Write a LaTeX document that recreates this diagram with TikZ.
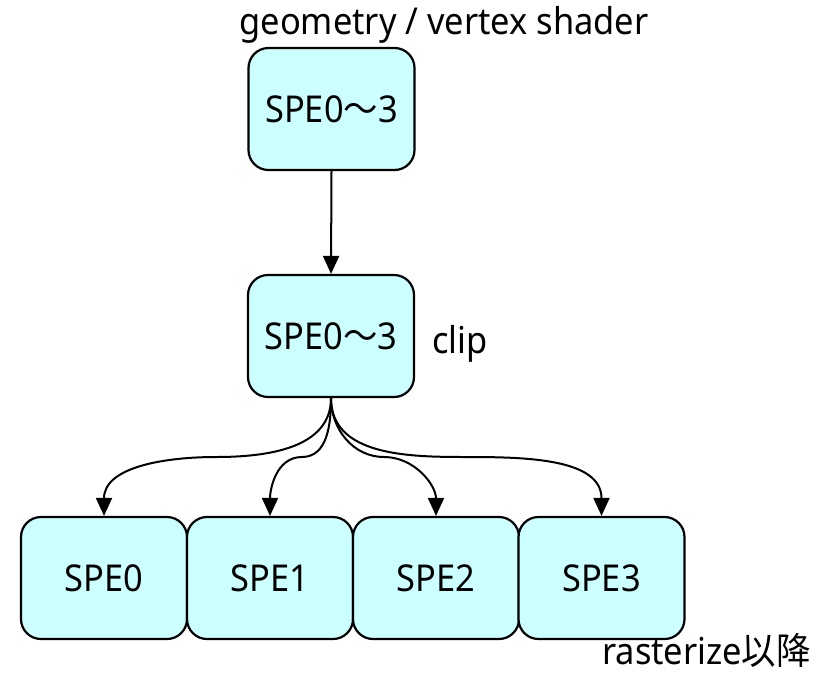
\documentclass[tikz,border=0pt]{standalone}
\usepackage{fontspec}
\setmainfont[FakeStretch=0.93]{Noto Sans}
\newfontfamily\cjk[FakeStretch=0.93]{Noto Sans CJK JP}
\usetikzlibrary{arrows.meta}
\definecolor{boxfill}{HTML}{CCFFFF}
\tikzset{
  spebox/.style={draw=black, line width=2.2pt, fill=boxfill, rounded corners=20pt,
    minimum width=166pt, minimum height=122pt, inner sep=0pt,
    font=\fontsize{37}{44}\selectfont},
  lbl/.style={inner sep=0pt, font=\fontsize{37}{44}\selectfont},
  arr/.style={line width=2pt, -{Triangle[length=18pt,width=16pt]}}
}
\begin{document}
\begin{tikzpicture}[x=1pt,y=-1pt]
\useasboundingbox (0,0) rectangle (825,673);
\node[lbl, anchor=base] (title) at (444,34) {geometry / vertex shader};
\node[spebox] (top) at (331.5,109) {SPE0{\cjk ～}3};
\node[spebox] (mid) at (331,336) {SPE0{\cjk ～}3};
\node[lbl, anchor=base west] (clip) at (432,353) {clip};
\node[spebox] (s0) at (104,578) {SPE0};
\node[spebox] (s1) at (270,578) {SPE1};
\node[spebox] (s2) at (436,578) {SPE2};
\node[spebox] (s3) at (601.5,578) {SPE3};
\node[lbl, anchor=base east] (rast) at (811,664) {rasterize{\cjk 以降}};
\coordinate (m0) at (216,457);
\coordinate (m1) at (302,457);
\coordinate (m2) at (384,457);
\coordinate (m3) at (466,457);
\draw[arr] (top.south) -- (mid.north);
\draw[arr] (mid.south) to[out=-90,in=0] (m0) to[out=180,in=90] (s0.north);
\draw[arr] (mid.south) to[out=-90,in=0] (m1) to[out=180,in=90] (s1.north);
\draw[arr] (mid.south) to[out=-90,in=180] (m2) to[out=0,in=90] (s2.north);
\draw[arr] (mid.south) to[out=-90,in=180] (m3) to[out=0,in=90] (s3.north);
\end{tikzpicture}
\end{document}
